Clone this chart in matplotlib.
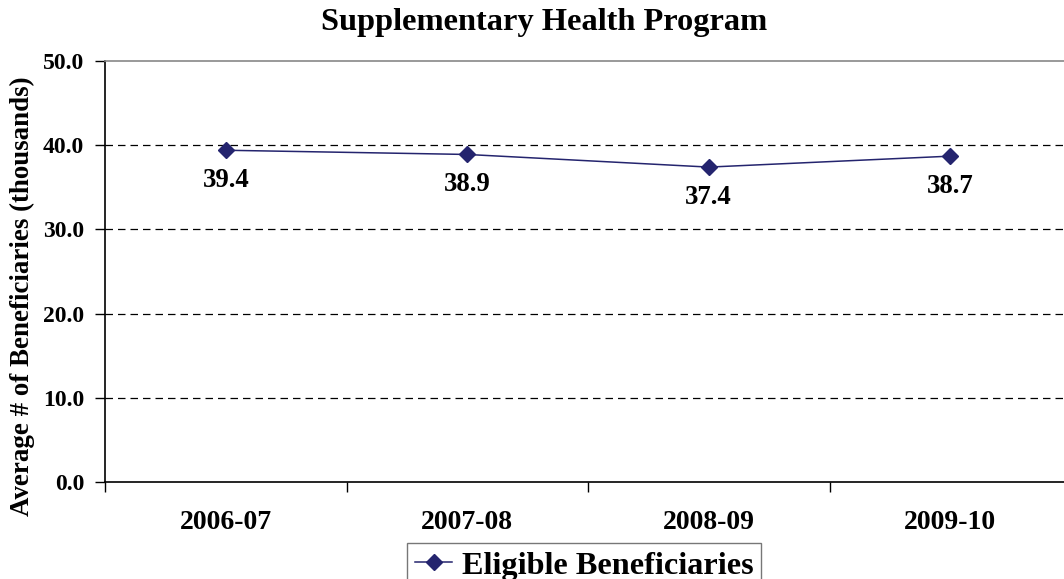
import matplotlib
matplotlib.use("Agg")
import matplotlib.pyplot as plt

# data
years = ["2006-07", "2007-08", "2008-09", "2009-10"]
beneficiaries = [39.4, 38.9, 37.4, 38.7]
y_ticks = [0, 10, 20, 30, 40, 50]

plt.rcParams['font.family'] = ['Liberation Serif', 'DejaVu Serif']
plt.rcParams['font.weight'] = 'bold'

W, H = 1064, 579
fig = plt.figure(figsize=(W / 100, H / 100), dpi=100)
ax = fig.add_axes([105 / W, 1 - 482 / H, 966 / W, (482 - 61) / H])

navy = "#24246e"
x = list(range(len(years)))
ax.plot(x, beneficiaries, color=navy, lw=1.1, marker="D", ms=8,
        mfc=navy, mec=navy, label="Eligible Beneficiaries")

for xi, v in zip(x, beneficiaries):
    ax.annotate("%.1f" % v, (xi, v), xytext=(0, -30), textcoords="offset pixels",
                ha="center", va="center", fontsize=19.3, fontweight="bold")

ax.set_xlim(-0.5, len(years) - 0.5)
ax.set_ylim(0, 50)
ax.set_yticks(y_ticks)
ax.set_yticklabels(["%.1f" % t for t in y_ticks], fontsize=17, fontweight="bold")
ax.set_xticks(x)
ax.set_xticklabels(years, fontsize=20, fontweight="bold")
ax.set_xticks([i + 0.5 for i in range(-1, len(years))], minor=True)
ax.tick_params(axis="x", which="major", length=0, pad=20)
ax.tick_params(axis="x", which="minor", length=7, width=1, direction="out")
ax.tick_params(axis="y", length=7, width=1, pad=8)

for t in [10, 20, 30, 40]:
    ax.axhline(t, color="black", lw=0.9, ls=(0, (6, 4)), zorder=0)

ax.spines["right"].set_visible(False)
ax.spines["top"].set_color("#888888")
ax.spines["top"].set_linewidth(1.2)
ax.spines["left"].set_linewidth(1.2)
ax.spines["bottom"].set_linewidth(1.2)

# y label sits a bit below the axes centre in the original
fig.text(22 / W, 1 - 296 / H, "Average # of Beneficiaries (thousands)", rotation=90,
         ha="center", va="center", fontsize=19.4, fontweight="bold")
fig.text(544 / W, 1 - 30 / H, "Supplementary Health Program", ha="center",
         va="baseline", fontsize=23.3, fontweight="bold")

leg = ax.legend(loc="upper left", bbox_to_anchor=(407 / W, 1 - 543 / H),
                bbox_transform=fig.transFigure, prop={"size": 23.2, "weight": "bold"},
                frameon=True, fancybox=False, edgecolor="#555555",
                handlelength=1.15, borderpad=0.25, handletextpad=0.3, borderaxespad=0)
leg.get_frame().set_linewidth(1.0)

fig.savefig("out.png", dpi=100)
